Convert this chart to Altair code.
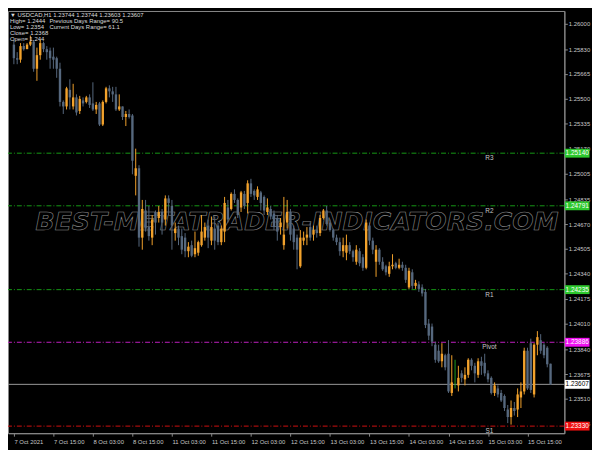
import altair as alt
import pandas as pd

# ---------------- data (USDCAD H1) ----------------
opens = [1.2586, 1.2577, 1.2576, 1.2585, 1.2583, 1.2586, 1.2588, 1.2570, 1.2579, 1.2587,
         1.2583, 1.2582, 1.2578, 1.2577, 1.2570, 1.2548, 1.2545, 1.2556, 1.2545, 1.2551,
         1.2542, 1.2549, 1.2548, 1.2551, 1.2547, 1.2543, 1.2547, 1.2533, 1.2548, 1.2557,
         1.2555, 1.2553, 1.2543, 1.2545, 1.2538, 1.2540, 1.2539, 1.2499, 1.2504, 1.2458,
         1.2476, 1.2465, 1.2458, 1.2475, 1.2471, 1.2475, 1.2470, 1.2484, 1.2479, 1.2461,
         1.2464, 1.2459, 1.2458, 1.2449, 1.2453, 1.2447, 1.2448, 1.2453, 1.2458, 1.2466,
         1.2456, 1.2464, 1.2466, 1.2455, 1.2462, 1.2478, 1.2477, 1.2487, 1.2483, 1.2478,
         1.2487, 1.2481, 1.2494, 1.2489, 1.2485, 1.2488, 1.2485, 1.2475, 1.2477, 1.2474,
         1.2471, 1.2465, 1.2453, 1.2468, 1.2475, 1.2464, 1.2458, 1.2439, 1.2456, 1.2458,
         1.2465, 1.2460, 1.2463, 1.2461, 1.2471, 1.2476, 1.2468, 1.2463, 1.2458, 1.2455,
         1.2449, 1.2448, 1.2453, 1.2449, 1.2442, 1.2449, 1.2445, 1.2438, 1.2466, 1.2456,
         1.2442, 1.2450, 1.2442, 1.2439, 1.2434, 1.2439, 1.2441, 1.2438, 1.2440, 1.2438,
         1.2425, 1.2435, 1.2426, 1.2427, 1.2425, 1.2422, 1.2401, 1.2399, 1.2387, 1.2383,
         1.2376, 1.2380, 1.2381, 1.2355, 1.2368, 1.2360, 1.2368, 1.2364, 1.2367, 1.2377,
         1.2373, 1.2367, 1.2376, 1.2375, 1.2368, 1.2365, 1.2355, 1.2358, 1.2355, 1.2353,
         1.2344, 1.2339, 1.2345, 1.2344, 1.2352, 1.2356, 1.2383, 1.2388, 1.2354, 1.2387,
         1.2390, 1.2387, 1.2385, 1.23744]
highs = [1.2589, 1.2581, 1.2587, 1.2587, 1.2587, 1.2592, 1.2589, 1.2584, 1.2589, 1.2588,
         1.2585, 1.2584, 1.2584, 1.2578, 1.2574, 1.2549, 1.2558, 1.2563, 1.2560, 1.2553,
         1.2552, 1.2551, 1.2552, 1.2553, 1.2561, 1.2548, 1.2548, 1.2549, 1.2558, 1.2559,
         1.2558, 1.2558, 1.2553, 1.2545, 1.2542, 1.2543, 1.2540, 1.2517, 1.2506, 1.2483,
         1.2483, 1.2479, 1.2473, 1.2476, 1.2479, 1.2477, 1.2486, 1.2486, 1.2483, 1.2468,
         1.2466, 1.2464, 1.2461, 1.2455, 1.2456, 1.2462, 1.2456, 1.2473, 1.2468, 1.2470,
         1.2472, 1.2472, 1.2468, 1.2466, 1.2485, 1.2483, 1.2488, 1.2490, 1.2484, 1.2489,
         1.2489, 1.2496, 1.2497, 1.2490, 1.2492, 1.2489, 1.2486, 1.2484, 1.2479, 1.2476,
         1.2473, 1.2471, 1.2485, 1.2483, 1.2477, 1.2466, 1.2460, 1.2463, 1.2462, 1.2465,
         1.2468, 1.2466, 1.2466, 1.2473, 1.2477, 1.2479, 1.2470, 1.2464, 1.2460, 1.2458,
         1.2458, 1.2460, 1.2455, 1.2450, 1.2453, 1.2451, 1.2447, 1.2470, 1.2468, 1.2458,
         1.2453, 1.2451, 1.2445, 1.2440, 1.2442, 1.2447, 1.2442, 1.2444, 1.2442, 1.2440,
         1.2438, 1.2437, 1.2430, 1.2429, 1.2427, 1.2424, 1.2404, 1.2401, 1.2389, 1.2387,
         1.2388, 1.2381, 1.2390, 1.2380, 1.2377, 1.2373, 1.2370, 1.2372, 1.2378, 1.2378,
         1.2375, 1.2378, 1.2379, 1.2381, 1.2370, 1.2366, 1.2362, 1.2360, 1.2357, 1.2354,
         1.2347, 1.2350, 1.2349, 1.2358, 1.2362, 1.2385, 1.2385, 1.2391, 1.2388, 1.2396,
         1.2394, 1.2388, 1.2386, 1.23744]
lows = [1.2573, 1.2573, 1.2574, 1.2582, 1.2583, 1.2585, 1.2568, 1.2562, 1.2576, 1.2581,
        1.2576, 1.2570, 1.2570, 1.2564, 1.2545, 1.2540, 1.2543, 1.2543, 1.2543, 1.2539,
        1.2540, 1.2545, 1.2547, 1.2544, 1.2542, 1.2540, 1.2532, 1.2532, 1.2547, 1.2551,
        1.2548, 1.2542, 1.2542, 1.2536, 1.2532, 1.2537, 1.2500, 1.2486, 1.2452, 1.2450,
        1.2462, 1.2456, 1.2453, 1.2460, 1.2468, 1.2460, 1.2466, 1.2473, 1.2450, 1.2456,
        1.2453, 1.2447, 1.2445, 1.2445, 1.2445, 1.2445, 1.2446, 1.2452, 1.2456, 1.2451,
        1.2453, 1.2450, 1.2453, 1.2453, 1.2455, 1.2468, 1.2476, 1.2481, 1.2471, 1.2475,
        1.2477, 1.2474, 1.2485, 1.2483, 1.2483, 1.2476, 1.2473, 1.2473, 1.2470, 1.2463,
        1.2456, 1.2460, 1.2450, 1.2464, 1.2456, 1.2450, 1.2437, 1.2438, 1.2453, 1.2453,
        1.2456, 1.2456, 1.2458, 1.2459, 1.2470, 1.2466, 1.2462, 1.2456, 1.2453, 1.2446,
        1.2445, 1.2443, 1.2447, 1.2442, 1.2440, 1.2439, 1.2436, 1.2437, 1.2453, 1.2447,
        1.2432, 1.2440, 1.2436, 1.2433, 1.2432, 1.2437, 1.2437, 1.2437, 1.2436, 1.2428,
        1.2424, 1.2424, 1.2424, 1.2422, 1.2419, 1.2398, 1.2390, 1.2386, 1.2375, 1.2375,
        1.2372, 1.2370, 1.2355, 1.2353, 1.2358, 1.2356, 1.2362, 1.2360, 1.2365, 1.2370,
        1.2362, 1.2365, 1.2367, 1.2366, 1.2362, 1.2354, 1.2353, 1.2352, 1.2349, 1.2343,
        1.2335, 1.2334, 1.2340, 1.2339, 1.2345, 1.2354, 1.2357, 1.2355, 1.2352, 1.2380,
        1.2381, 1.2378, 1.2372, 1.23603]
closes = [1.2577, 1.2576, 1.2585, 1.2583, 1.2586, 1.2588, 1.2570, 1.2579, 1.2587, 1.2583,
          1.2581, 1.2577, 1.2576, 1.2570, 1.2548, 1.2545, 1.2557, 1.2551, 1.2551, 1.2541,
          1.2550, 1.2547, 1.2551, 1.2546, 1.2543, 1.2546, 1.2533, 1.2548, 1.2557, 1.2555,
          1.2553, 1.2543, 1.2545, 1.2538, 1.2540, 1.2538, 1.2509, 1.2504, 1.2458, 1.2477,
          1.2464, 1.2459, 1.2470, 1.2468, 1.2475, 1.2468, 1.2484, 1.2481, 1.2466, 1.2464,
          1.2458, 1.2450, 1.2449, 1.2452, 1.2446, 1.2451, 1.2455, 1.2462, 1.2465, 1.2458,
          1.2465, 1.2456, 1.2455, 1.2464, 1.2481, 1.2470, 1.2487, 1.2483, 1.2473, 1.2488,
          1.2479, 1.2494, 1.2487, 1.2486, 1.2490, 1.2481, 1.2476, 1.2478, 1.2472, 1.2465,
          1.2462, 1.2468, 1.2460, 1.2475, 1.2460, 1.2455, 1.2450, 1.2458, 1.2458, 1.2460,
          1.2458, 1.2463, 1.2461, 1.2471, 1.2476, 1.2467, 1.2463, 1.2458, 1.2455, 1.2449,
          1.2453, 1.2453, 1.2449, 1.2445, 1.2450, 1.2441, 1.2438, 1.2468, 1.2456, 1.2450,
          1.2450, 1.2442, 1.2437, 1.2435, 1.2439, 1.2440, 1.2438, 1.2440, 1.2438, 1.2430,
          1.2436, 1.2426, 1.2428, 1.2424, 1.2421, 1.2400, 1.2393, 1.2389, 1.2377, 1.2376,
          1.2381, 1.2372, 1.2356, 1.2362, 1.2368, 1.2365, 1.2365, 1.2367, 1.2377, 1.2373,
          1.2368, 1.2376, 1.2373, 1.2368, 1.2364, 1.2355, 1.2360, 1.2354, 1.2350, 1.2345,
          1.2339, 1.2345, 1.2343, 1.2354, 1.2356, 1.2383, 1.2358, 1.2357, 1.2387, 1.2392,
          1.2383, 1.2380, 1.2374, 1.23607]

time_tick_bars = [0, 12, 24, 36, 48, 60, 72, 84, 96, 108, 120, 132, 144, 156]
time_tick_labels = ["7 Oct 2021", "7 Oct 15:00", "8 Oct 03:00", "8 Oct 15:00",
                    "11 Oct 03:00", "11 Oct 15:00", "12 Oct 03:00", "12 Oct 15:00",
                    "13 Oct 03:00", "13 Oct 15:00", "14 Oct 03:00", "14 Oct 15:00",
                    "15 Oct 03:00", "15 Oct 15:00"]
price_ticks = [1.26000, 1.25830, 1.25665, 1.25500, 1.25335, 1.25170, 1.25005, 1.24835,
               1.24670, 1.24505, 1.24340, 1.24175, 1.24010, 1.23840, 1.23675, 1.23510, 1.23345]

level_names = ["R3", "R2", "R1", "Pivot", "S1"]
level_values = [1.25140, 1.24791, 1.24235, 1.23886, 1.23330]
level_kinds = ["r", "r", "r", "p", "s"]
current_price = 1.23607

header_left = ["\u25bc USDCAD,H1  1.23744 1.23744 1.23603 1.23607",
               "High= 1.2444", "Low= 1.2354", "Close= 1.2368", "Open= 1.244"]
header_right = ["Previous Days Range= 90.5", "Current Days Range= 61.1"]
watermark = "BEST-METATRADER-INDICATORS.COM"

# ---------------- style ----------------
UP = "#F2A22C"
DOWN = "#56687E"
DOJI = "#1E9E1E"
LINE_COL = {"r": "#169816", "p": "#C020C0", "s": "#D01010"}
TAG_COL = {"r": "#2DC82D", "p": "#F010F0", "s": "#F01010", "c": "#FFFFFF"}
TXT = "#C8C8C8"
FONT = "Liberation Sans"

W, H = 564, 428

# ---------------- tables ----------------
df = pd.DataFrame({"i": list(range(len(opens))), "open": opens, "high": highs,
                   "low": lows, "close": closes})
df["dir"] = ["up" if c > o else ("down" if c < o else "doji")
             for o, c in zip(opens, closes)]

lv = pd.DataFrame({"name": level_names, "price": level_values, "kind": level_kinds})
tags = pd.DataFrame({"price": level_values + [current_price],
                     "kind": level_kinds + ["c"]})
tags["label"] = [f"{p:.5f}" for p in tags["price"]]
tags["tcol"] = ["k" if k == "c" else "w" for k in tags["kind"]]
cur = pd.DataFrame({"price": [current_price]})
one = pd.DataFrame({"k": [0]})

xscale = alt.Scale(domain=[-0.29, 165.7], nice=False, zero=False)
yscale = alt.Scale(domain=[1.23283, 1.26083], nice=False, zero=False)

label_arr = "[" + ",".join("'" + s + "'" for s in time_tick_labels) + "]"
xaxis = alt.Axis(values=time_tick_bars, labelExpr=label_arr + "[round(datum.value/12)]",
                 title=None, grid=False, labelAlign="left", labelColor=TXT,
                 labelFont=FONT, labelFontSize=6, labelPadding=2, labelOverlap=False,
                 labelFlush=False, labelBound=False, tickSize=3, tickColor="#8a8a8a",
                 domainColor="#8a8a8a")
yaxis = alt.Axis(orient="right", values=price_ticks, format=".5f", title=None, grid=False,
                 labelColor=TXT, labelFont=FONT, labelFontSize=6, labelPadding=1,
                 labelOverlap=False, labelFlush=False, labelBound=False, tickSize=3,
                 tickColor="#8a8a8a", domainColor="#8a8a8a")

X = alt.X("i:Q", scale=xscale, axis=xaxis)
color = alt.Color("dir:N", scale=alt.Scale(domain=["up", "down", "doji"],
                                            range=[UP, DOWN, DOJI]), legend=None)

base = alt.Chart(df)
wicks = base.mark_rule(strokeWidth=1).encode(
    x=X, y=alt.Y("low:Q", scale=yscale, axis=yaxis), y2="high:Q", color=color)
bodies = base.mark_bar(width=2.4).encode(
    x=X, y=alt.Y("open:Q", scale=yscale, axis=yaxis), y2="close:Q", color=color)

lcolor = alt.Color("kind:N", scale=alt.Scale(domain=list(LINE_COL.keys()),
                                             range=list(LINE_COL.values())), legend=None)
level_lines = alt.Chart(lv).mark_rule(strokeWidth=1, strokeDash=[5, 2, 1, 2]).encode(
    y=alt.Y("price:Q", scale=yscale, axis=yaxis), color=lcolor)
cur_line = alt.Chart(cur).mark_rule(strokeWidth=1, color="#9a9a9a").encode(
    y=alt.Y("price:Q", scale=yscale, axis=yaxis))
level_text = alt.Chart(lv).mark_text(baseline="top", align="center", dy=2, fontSize=6.5,
                                     font=FONT, color=TXT).encode(
    x=alt.value(488), y=alt.Y("price:Q", scale=yscale, axis=yaxis), text="name:N")

tag_color = alt.Color("kind:N", scale=alt.Scale(domain=list(TAG_COL.keys()),
                                                range=list(TAG_COL.values())), legend=None)
tag_box = alt.Chart(tags).mark_point(
    shape="M-1,-0.36L1,-0.36L1,0.36L-1,0.36Z", filled=True, size=625, opacity=1,
    strokeWidth=0).encode(
    x=alt.value(577), y=alt.Y("price:Q", scale=yscale, axis=yaxis), color=tag_color)
tag_text = alt.Chart(tags).mark_text(fontSize=6.5, font=FONT, baseline="middle",
                                     align="center").encode(
    x=alt.value(577), y=alt.Y("price:Q", scale=yscale, axis=yaxis), text="label:N",
    color=alt.Color("tcol:N", scale=alt.Scale(domain=["k", "w"], range=["#000000", "#FFFFFF"]),
                    legend=None))

wm = alt.Chart(one).mark_text(text=watermark, font="DejaVu Sans", fontWeight="bold",
                              fontStyle="italic", fontSize=25.5, align="center",
                              baseline="alphabetic", fill="transparent", fillOpacity=0,
                              stroke="#8c8c8c", strokeWidth=0.6).encode(
    x=alt.value(293), y=alt.value(222))
hdr_l = alt.Chart(one).mark_text(text=header_left, font=FONT, fontSize=6, lineHeight=6.2,
                                 align="left", baseline="top", color="#DADADA").encode(
    x=alt.value(2), y=alt.value(1))
hdr_r = alt.Chart(one).mark_text(text=header_right, font=FONT, fontSize=6, lineHeight=6.2,
                                 align="left", baseline="top", color="#DADADA").encode(
    x=alt.value(42), y=alt.value(7.2))

chart = alt.layer(
    level_lines, cur_line, wm, wicks, bodies, level_text, tag_box, tag_text, hdr_l, hdr_r
).resolve_scale(color="independent").properties(
    width=W, height=H, background="black",
    padding={"left": 0, "top": 0, "right": 28, "bottom": 14},
    autosize=alt.AutoSizeParams(type="none"),
).configure_view(stroke="#8a8a8a", strokeWidth=1)

chart.save("out.html", embed_options={"renderer": "svg", "actions": False})
